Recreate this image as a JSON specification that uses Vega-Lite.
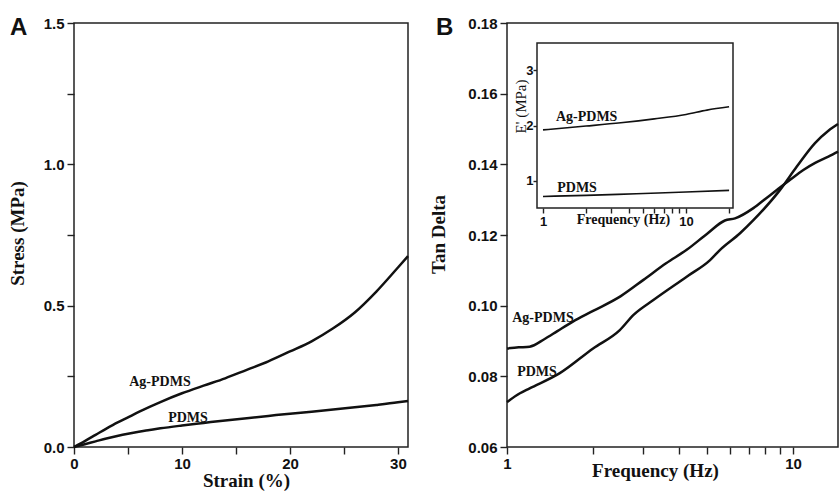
{
  "$schema": "https://vega.github.io/schema/vega-lite/v6.json",
  "autosize": {"type": "none"},
  "padding": {"left": 74, "top": 23, "right": 765, "bottom": 468},
  "background": "white",
  "config": {
    "view": {"stroke": "#222", "strokeWidth": 1.5},
    "axis": {
      "domain": false, "grid": false,
      "labelFont": "Liberation Sans", "labelFontWeight": "bold", "labelFontSize": 15, "labelColor": "#111",
      "tickColor": "#222", "tickWidth": 1.4,
      "titleFont": "Liberation Serif", "titleFontWeight": "bold", "titleFontSize": 19, "titleColor": "#111",
      "labelFlush": false, "labelOverlap": false
    },
    "title": {"font": "Liberation Sans", "fontWeight": "bold", "fontSize": 24, "color": "#111", "anchor": "start", "frame": "group", "baseline": "alphabetic", "offset": 0}
  },
  "datasets": {
    "stress": [
      {"series": "Ag-PDMS", "strain": 0, "stress": 0},
      {"series": "Ag-PDMS", "strain": 1, "stress": 0.021},
      {"series": "Ag-PDMS", "strain": 2, "stress": 0.043},
      {"series": "Ag-PDMS", "strain": 3, "stress": 0.065},
      {"series": "Ag-PDMS", "strain": 4, "stress": 0.086},
      {"series": "Ag-PDMS", "strain": 5, "stress": 0.105},
      {"series": "Ag-PDMS", "strain": 6, "stress": 0.124},
      {"series": "Ag-PDMS", "strain": 7, "stress": 0.142},
      {"series": "Ag-PDMS", "strain": 8, "stress": 0.159},
      {"series": "Ag-PDMS", "strain": 10, "stress": 0.19},
      {"series": "Ag-PDMS", "strain": 12, "stress": 0.217},
      {"series": "Ag-PDMS", "strain": 14, "stress": 0.243},
      {"series": "Ag-PDMS", "strain": 16, "stress": 0.273},
      {"series": "Ag-PDMS", "strain": 18, "stress": 0.303},
      {"series": "Ag-PDMS", "strain": 20, "stress": 0.338},
      {"series": "Ag-PDMS", "strain": 22, "stress": 0.374},
      {"series": "Ag-PDMS", "strain": 24, "stress": 0.42},
      {"series": "Ag-PDMS", "strain": 26, "stress": 0.476},
      {"series": "Ag-PDMS", "strain": 28, "stress": 0.55},
      {"series": "Ag-PDMS", "strain": 30, "stress": 0.635},
      {"series": "Ag-PDMS", "strain": 30.93, "stress": 0.675},
      {"series": "PDMS", "strain": 0, "stress": 0},
      {"series": "PDMS", "strain": 1, "stress": 0.01},
      {"series": "PDMS", "strain": 2, "stress": 0.02},
      {"series": "PDMS", "strain": 3, "stress": 0.03},
      {"series": "PDMS", "strain": 4, "stress": 0.039},
      {"series": "PDMS", "strain": 5, "stress": 0.047},
      {"series": "PDMS", "strain": 6, "stress": 0.054},
      {"series": "PDMS", "strain": 7, "stress": 0.06},
      {"series": "PDMS", "strain": 8, "stress": 0.066},
      {"series": "PDMS", "strain": 10, "stress": 0.076},
      {"series": "PDMS", "strain": 12, "stress": 0.085},
      {"series": "PDMS", "strain": 14, "stress": 0.094},
      {"series": "PDMS", "strain": 16, "stress": 0.102},
      {"series": "PDMS", "strain": 18, "stress": 0.11},
      {"series": "PDMS", "strain": 20, "stress": 0.118},
      {"series": "PDMS", "strain": 22, "stress": 0.125},
      {"series": "PDMS", "strain": 24, "stress": 0.133},
      {"series": "PDMS", "strain": 26, "stress": 0.141},
      {"series": "PDMS", "strain": 28, "stress": 0.149},
      {"series": "PDMS", "strain": 30, "stress": 0.158},
      {"series": "PDMS", "strain": 30.93, "stress": 0.163}
    ],
    "labelsA": [
      {"strain": 7.96, "stress": 0.23, "label": "Ag-PDMS"},
      {"strain": 10.56, "stress": 0.1026, "label": "PDMS"}
    ],
    "tan": [
      {"series": "Ag-PDMS", "freq": 1.0, "tan": 0.0879},
      {"series": "Ag-PDMS", "freq": 1.1, "tan": 0.0882},
      {"series": "Ag-PDMS", "freq": 1.2, "tan": 0.0884},
      {"series": "Ag-PDMS", "freq": 1.35, "tan": 0.0905},
      {"series": "Ag-PDMS", "freq": 1.5, "tan": 0.0928},
      {"series": "Ag-PDMS", "freq": 1.7, "tan": 0.0955},
      {"series": "Ag-PDMS", "freq": 2.0, "tan": 0.0985},
      {"series": "Ag-PDMS", "freq": 2.5, "tan": 0.1027},
      {"series": "Ag-PDMS", "freq": 3.0, "tan": 0.1073},
      {"series": "Ag-PDMS", "freq": 3.6, "tan": 0.112},
      {"series": "Ag-PDMS", "freq": 4.25, "tan": 0.1158},
      {"series": "Ag-PDMS", "freq": 5.0, "tan": 0.1203},
      {"series": "Ag-PDMS", "freq": 5.78, "tan": 0.1241},
      {"series": "Ag-PDMS", "freq": 6.27, "tan": 0.1247},
      {"series": "Ag-PDMS", "freq": 7.27, "tan": 0.1276},
      {"series": "Ag-PDMS", "freq": 8.0, "tan": 0.1302},
      {"series": "Ag-PDMS", "freq": 8.8, "tan": 0.1328},
      {"series": "Ag-PDMS", "freq": 9.8, "tan": 0.1357},
      {"series": "Ag-PDMS", "freq": 10.87, "tan": 0.1384},
      {"series": "Ag-PDMS", "freq": 12.0, "tan": 0.1405},
      {"series": "Ag-PDMS", "freq": 13.3, "tan": 0.1422},
      {"series": "Ag-PDMS", "freq": 14.37, "tan": 0.1436},
      {"series": "PDMS", "freq": 1.0, "tan": 0.0727},
      {"series": "PDMS", "freq": 1.11, "tan": 0.0752},
      {"series": "PDMS", "freq": 1.2, "tan": 0.0766},
      {"series": "PDMS", "freq": 1.53, "tan": 0.0809},
      {"series": "PDMS", "freq": 2.0, "tan": 0.0879},
      {"series": "PDMS", "freq": 2.48, "tan": 0.0931},
      {"series": "PDMS", "freq": 2.77, "tan": 0.0974},
      {"series": "PDMS", "freq": 3.25, "tan": 0.1016},
      {"series": "PDMS", "freq": 4.25, "tan": 0.1082},
      {"series": "PDMS", "freq": 5.13, "tan": 0.1129},
      {"series": "PDMS", "freq": 5.56, "tan": 0.1158},
      {"series": "PDMS", "freq": 6.53, "tan": 0.1205},
      {"series": "PDMS", "freq": 7.27, "tan": 0.1242},
      {"series": "PDMS", "freq": 9.0, "tan": 0.1327},
      {"series": "PDMS", "freq": 10.3, "tan": 0.1393},
      {"series": "PDMS", "freq": 11.94, "tan": 0.146},
      {"series": "PDMS", "freq": 13.3, "tan": 0.1495},
      {"series": "PDMS", "freq": 14.37, "tan": 0.1514}
    ],
    "labelsB": [
      {"freq": 1.336, "tan": 0.0965, "label": "Ag-PDMS"},
      {"freq": 1.273, "tan": 0.0811, "label": "PDMS"}
    ],
    "modulus": [
      {"series": "Ag-PDMS", "f": 1, "e": 1.92},
      {"series": "Ag-PDMS", "f": 2, "e": 1.99},
      {"series": "Ag-PDMS", "f": 3.5, "e": 2.05},
      {"series": "Ag-PDMS", "f": 6, "e": 2.12},
      {"series": "Ag-PDMS", "f": 10, "e": 2.2},
      {"series": "Ag-PDMS", "f": 14, "e": 2.28},
      {"series": "Ag-PDMS", "f": 20, "e": 2.34},
      {"series": "PDMS", "f": 1, "e": 0.71},
      {"series": "PDMS", "f": 2, "e": 0.73},
      {"series": "PDMS", "f": 4.5, "e": 0.76},
      {"series": "PDMS", "f": 10, "e": 0.79},
      {"series": "PDMS", "f": 20, "e": 0.82}
    ],
    "insetFrame": [{"f": 0.908, "f2": 21.3, "e": 0.5, "e2": 3.5}],
    "labelsInset": [
      {"f": 2.02, "e": 2.15, "label": "Ag-PDMS"},
      {"f": 1.73, "e": 0.867, "label": "PDMS"}
    ]
  },
  "hconcat": [
    {
      "width": 334, "height": 424,
      "title": {"text": "A", "dx": -64, "dy": 28},
      "layer": [
        {
          "data": {"name": "stress"},
          "mark": {"type": "line", "color": "#111", "strokeWidth": 2.5, "interpolate": "monotone"},
          "encoding": {
            "x": {"field": "strain", "type": "quantitative",
              "scale": {"domain": [0, 30.93], "nice": false, "zero": false},
              "axis": {"title": "Strain (%)", "values": [0, 5, 10, 15, 20, 25, 30],
                "labelExpr": "datum.value % 10 === 0 ? format(datum.value, 'd') : ''",
                "tickSize": 7,
                "encode": {"ticks": {"update": {"y2": {"signal": "datum.value % 10 === 0 ? -7 : -4"}}}},
                "labelPadding": 2, "titleX": 172, "titleY": 39, "titleBaseline": "alphabetic"}},
            "y": {"field": "stress", "type": "quantitative",
              "scale": {"domain": [0, 1.5], "nice": false},
              "axis": {"title": "Stress (MPa)", "values": [0, 0.25, 0.5, 0.75, 1, 1.25, 1.5],
                "labelExpr": "(datum.value * 2) % 1 === 0 ? format(datum.value, '.1f') : ''",
                "tickSize": 7,
                "encode": {"ticks": {"update": {"x2": {"signal": "(datum.value * 2) % 1 === 0 ? 7 : 4"}}}},
                "labelPadding": 3, "titleX": -57, "titleY": 210, "titleBaseline": "middle"}},
            "detail": {"field": "series"}
          }
        },
        {
          "data": {"name": "labelsA"},
          "mark": {"type": "text", "font": "Liberation Serif", "fontWeight": "bold", "fontSize": 14, "color": "#111", "baseline": "middle", "align": "center"},
          "encoding": {
            "x": {"field": "strain", "type": "quantitative"},
            "y": {"field": "stress", "type": "quantitative"},
            "text": {"field": "label"}
          }
        }
      ]
    },
    {
      "width": 331, "height": 424,
      "title": {"text": "B", "dx": -71, "dy": 28},
      "layer": [
        {
          "layer": [
            {
              "data": {"name": "tan"},
              "mark": {"type": "line", "color": "#111", "strokeWidth": 2.5, "interpolate": "monotone"},
              "encoding": {
                "x": {"field": "freq", "type": "quantitative",
                  "scale": {"type": "log", "domain": [1, 14.37], "nice": false},
                  "axis": {"title": "Frequency (Hz)", "values": [1, 2, 3, 4, 5, 6, 7, 8, 9, 10],
                    "labelExpr": "datum.value === 1 || datum.value === 10 ? format(datum.value, 'd') : ''",
                    "tickSize": 7,
                    "encode": {"ticks": {"update": {"y2": {"signal": "datum.value === 1 || datum.value === 10 ? -8 : -4"}}}},
                    "labelPadding": 2, "titleX": 148, "titleY": 29, "titleBaseline": "alphabetic"}},
                "y": {"field": "tan", "type": "quantitative",
                  "scale": {"domain": [0.06, 0.18], "nice": false, "zero": false},
                  "axis": {"title": "Tan Delta", "values": [0.06, 0.07, 0.08, 0.09, 0.1, 0.11, 0.12, 0.13, 0.14, 0.15, 0.16, 0.17, 0.18],
                    "labelExpr": "round(datum.value * 100) % 2 === 0 ? format(datum.value, '.2f') : ''",
                    "tickSize": 7,
                    "encode": {"ticks": {"update": {"x2": {"signal": "round(datum.value * 100) % 2 === 0 ? 8 : 5"}}}},
                    "labelPadding": 3, "titleX": -69, "titleY": 211, "titleBaseline": "middle"}},
                "detail": {"field": "series"}
              }
            },
            {
              "data": {"name": "labelsB"},
              "mark": {"type": "text", "font": "Liberation Serif", "fontWeight": "bold", "fontSize": 14, "color": "#111", "baseline": "middle", "align": "center"},
              "encoding": {
                "x": {"field": "freq", "type": "quantitative"},
                "y": {"field": "tan", "type": "quantitative"},
                "text": {"field": "label"}
              }
            }
          ]
        },
        {
          "encoding": {
            "x": {"field": "f", "type": "quantitative",
              "scale": {"type": "log", "domain": [0.908, 21.3], "nice": false, "range": [30, 226]},
              "axis": {"orient": "bottom", "offset": -239, "title": "Frequency (Hz)", "values": [1, 2, 3, 4, 5, 6, 7, 8, 9, 10, 20],
                "labelExpr": "datum.value === 1 || datum.value === 10 ? format(datum.value, 'd') : ''",
                "tickSize": 5,
                "encode": {"ticks": {"update": {"y2": {"signal": "datum.value === 1 || datum.value === 10 ? -5 : -3"}}}},
                "labelPadding": 2, "labelFontSize": 13,
                "titleFontSize": 14, "titleX": 116, "titleY": 11, "titleBaseline": "middle"}},
            "y": {"field": "e", "type": "quantitative",
              "scale": {"domain": [0.5, 3.5], "nice": false, "zero": false, "range": [185, 20]},
              "axis": {"orient": "left", "offset": -30, "title": "E' (MPa)", "values": [1, 2, 3],
                "format": "d", "tickSize": 4,
                "encode": {"ticks": {"update": {"x2": {"value": 5}}}},
                "labelPadding": 0, "labelFontSize": 13,
                "titleFontSize": 15, "titleFontWeight": "normal", "titleX": -17, "titleY": 83, "titleBaseline": "middle"}}
          },
          "layer": [
            {
              "data": {"name": "insetFrame"},
              "mark": {"type": "rect", "fill": "white", "stroke": "#222", "strokeWidth": 1.5},
              "encoding": {"x2": {"field": "f2"}, "y2": {"field": "e2"}}
            },
            {
              "data": {"name": "modulus"},
              "mark": {"type": "line", "color": "#111", "strokeWidth": 1.6, "interpolate": "monotone"},
              "encoding": {"detail": {"field": "series"}}
            },
            {
              "data": {"name": "labelsInset"},
              "mark": {"type": "text", "font": "Liberation Serif", "fontWeight": "bold", "fontSize": 14, "color": "#111", "baseline": "middle", "align": "center"},
              "encoding": {"text": {"field": "label"}}
            }
          ]
        }
      ],
      "resolve": {"scale": {"x": "independent", "y": "independent"}, "axis": {"x": "independent", "y": "independent"}}
    }
  ],
  "spacing": 99,
  "bounds": "flush"
}
